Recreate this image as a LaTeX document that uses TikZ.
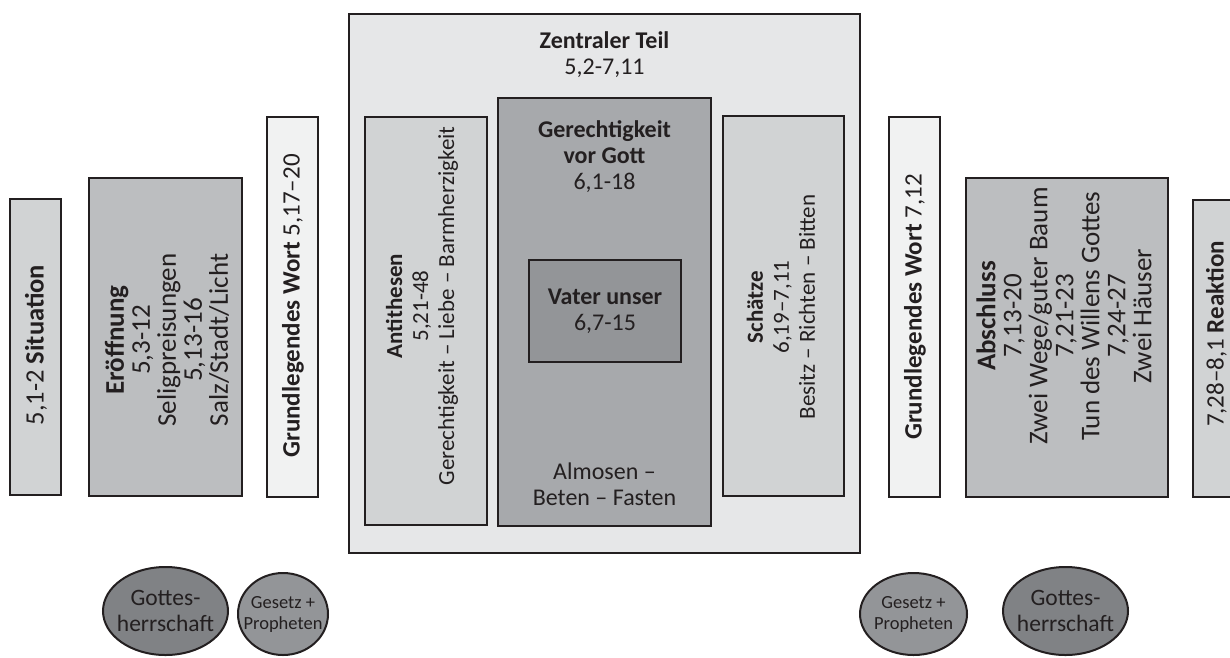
\documentclass[tikz,border=0pt]{standalone}
\usepackage{fontspec}
\setmainfont{Carlito}
\usetikzlibrary{shapes.geometric}
\definecolor{cline}{HTML}{231F20}
\definecolor{cpale}{HTML}{F1F2F2}
\definecolor{cframe}{HTML}{E6E7E8}
\definecolor{clight}{HTML}{D1D3D4}
\definecolor{cmid}{HTML}{BCBEC0}
\definecolor{cdeep}{HTML}{A7A9AC}
\definecolor{cdark}{HTML}{939598}
\definecolor{cdarker}{HTML}{808285}
\tikzset{
  panel/.style={draw=cline, fill=#1, line width=2.2pt, inner sep=0pt},
  panel/.default=clight,
  vlabel/.style={rotate=90, align=center, inner sep=0pt, text=cline, font=\fontsize{#1}{26}\selectfont},
  vlabel/.default=27,
  hlabel/.style={align=center, inner sep=0pt, text=cline, font=\fontsize{24}{26}\selectfont},
  oval/.style={ellipse, draw=cline, fill=#1, line width=2pt, inner sep=0pt},
  big/.style={font=\fontsize{23.5}{25.5}\selectfont},
  small/.style={font=\fontsize{18.5}{21}\selectfont},
}

\begin{document}
\begin{tikzpicture}[x=1pt, y=-1pt]
  \useasboundingbox (0,0) rectangle (1230,657);
  % outer frame of the central part
  \node[panel=cframe, minimum width=511pt, minimum height=539pt] (zentral) at (604.5,283.5) {};
  \node[hlabel] (zentral-t) at (604.5,54.5) {\textbf{Zentraler Teil}\\5,2-7,11};
  % left column
  \node[panel=clight, minimum width=51pt, minimum height=296pt] (sit) at (35.5,347) {};
  \node[vlabel=26.5] (sit-t) at (36,345) {5,1-2 \textbf{Situation}};
  \node[panel=cmid, minimum width=153pt, minimum height=318pt] (eroeff) at (165.5,337) {};
  \node[vlabel=27] (eroeff-t) at (167,340) {\textbf{Eröffnung}\\5,3-12\\Seligpreisungen\\5,13-16\\Salz/Stadt/Licht};
  \node[panel=cpale, minimum width=51pt, minimum height=380pt] (grund1) at (292.5,307) {};
  \node[vlabel=25] (grund1-t) at (293,306) {\textbf{Grundlegendes Wort} 5,17–20};
  % inside the central part
  \node[panel=clight, minimum width=122pt, minimum height=408pt] (anti) at (426,321) {};
  \node[vlabel=23] (anti-t) at (422,306) {\textbf{Antithesen}\\5,21-48\\Gerechtigkeit – Liebe – Barmherzigkeit};
  \node[panel=cdeep, minimum width=213pt, minimum height=428pt] (gerecht) at (604.5,312) {};
  \node[hlabel] (gerecht-t) at (604.5,157) {\textbf{Gerechtigkeit}\\\textbf{vor Gott}\\6,1-18};
  \node[panel=cdark, minimum width=152pt, minimum height=102pt] (vater) at (605,311) {};
  \node[hlabel] (vater-t) at (605,311) {\textbf{Vater unser}\\6,7-15};
  \node[hlabel] (almosen) at (604.5,484) {Almosen –\\Beten – Fasten};
  \node[panel=clight, minimum width=121pt, minimum height=380pt] (schaetze) at (783.5,306) {};
  \node[vlabel=23] (schaetze-t) at (781,307) {\textbf{Schätze}\\6,19–7,11\\Besitz – Richten – Bitten};
  % right column
  \node[panel=cpale, minimum width=51pt, minimum height=380pt] (grund2) at (914.5,307) {};
  \node[vlabel=25] (grund2-t) at (915,307) {\textbf{Grundlegendes Wort} 7,12};
  \node[panel=cmid, minimum width=202pt, minimum height=319pt] (abschluss) at (1067,337.5) {};
  \node[vlabel=27] (abschluss-t) at (1064,316) {\textbf{Abschluss}\\7,13-20\\Zwei Wege/guter Baum\\7,21-23\\Tun des Willens Gottes\\7,24-27\\Zwei Häuser};
  \node[panel=clight, minimum width=51pt, minimum height=297pt] (reaktion) at (1218.5,348.5) {};
  \node[vlabel=25] (reaktion-t) at (1216.5,334) {7,28–8,1 \textbf{Reaktion}};
  % ovals below
  \node[oval=cdarker, minimum width=125pt, minimum height=88pt] (herrschaft1) at (165.5,611) {};
  \node[hlabel, big] (herrschaft1-t) at (herrschaft1) {Gottes-\\herrschaft};
  \node[oval=cdark, minimum width=90pt, minimum height=82pt] (gesetz1) at (283,614) {};
  \node[hlabel, small] (gesetz1-t) at (gesetz1) {Gesetz +\\Propheten};
  \node[oval=cdark, minimum width=107pt, minimum height=82pt] (gesetz2) at (913.5,614) {};
  \node[hlabel, small] (gesetz2-t) at (gesetz2) {Gesetz +\\Propheten};
  \node[oval=cdarker, minimum width=125pt, minimum height=88pt] (herrschaft2) at (1065.5,611) {};
  \node[hlabel, big] (herrschaft2-t) at (herrschaft2) {Gottes-\\herrschaft};
\end{tikzpicture}
\end{document}
